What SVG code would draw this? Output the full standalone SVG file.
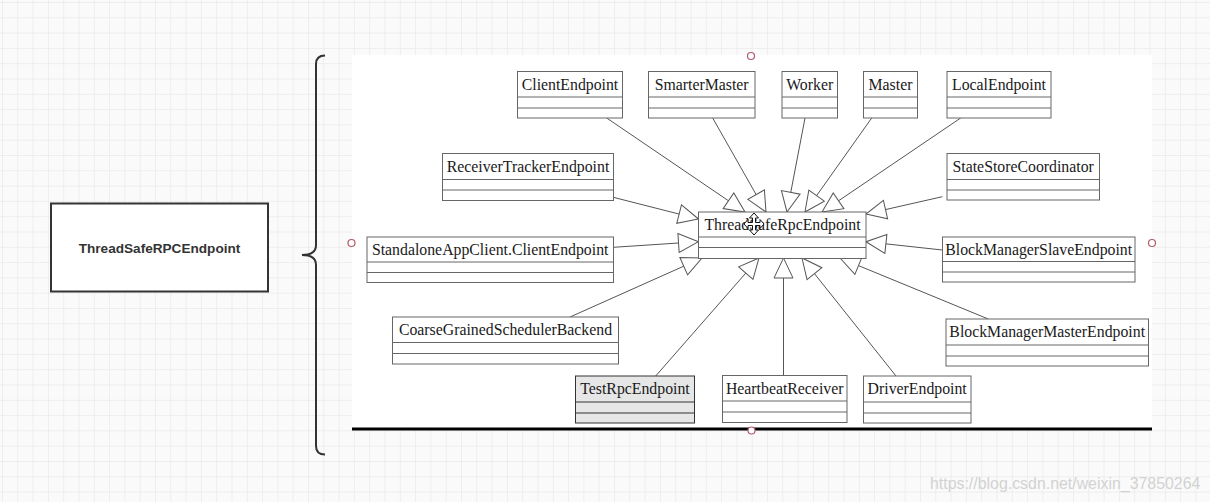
<svg xmlns="http://www.w3.org/2000/svg" width="1210" height="502" viewBox="0 0 1210 502">
<style>
.box rect, .box line { stroke: #666; stroke-width: 1; fill: none; }
.box rect.bg { fill: #ffffff; }
.box.sel rect.bg { fill: #e6e6e6; stroke: #333; }
.box.sel line { stroke: #333; }
.nm { font-family: "Liberation Serif", "Times New Roman", serif; font-size: 15.8px; fill: #1a1a1a; text-anchor: middle; }
.conn line { stroke: #555; stroke-width: 1; }
.handle { fill: #fff; stroke: #b5566a; stroke-width: 1.2; }
</style>
<defs>
<pattern id="grid" patternUnits="userSpaceOnUse" x="2" y="2" width="15.3" height="15.3">
<path d="M15.3,0 L0,0 L0,15.3" fill="none" stroke="#e2e2e2" stroke-width="1"/>
</pattern>
<marker id="tri" markerUnits="userSpaceOnUse" markerWidth="28" markerHeight="26" viewBox="-24 -13 28 26" refX="0" refY="0" orient="auto">
<path d="M0,0 L-20,-9.5 L-20,9.5 Z" fill="#fff" stroke="#555" stroke-width="1"/>
</marker>
</defs>
<rect width="1210" height="502" fill="#fafafa"/>
<rect width="1210" height="502" fill="url(#grid)"/>
<rect x="352" y="55" width="800" height="374" fill="#fff"/>
<line x1="352" y1="429" x2="1152" y2="429" stroke="#000" stroke-width="3"/>

<g id="summary">
<rect x="51" y="203.5" width="217" height="88" fill="#fff" stroke="#333" stroke-width="2"/>
<text x="159.5" y="252.5" font-family="Liberation Sans, Arial, sans-serif" font-size="13.6" font-weight="bold" fill="#333" text-anchor="middle">ThreadSafeRPCEndpoint</text>
</g>
<g id="brace">
<path d="M325,55.5 Q316,55.5 316,64 L316,245 Q316,255 302,255 Q316,255 316,265 L316,446 Q316,454.5 325,454.5" fill="none" stroke="#333" stroke-width="2"/>
</g>

<g class="conn" id="connectors">
<line x1="606.7" y1="118" x2="745" y2="212" marker-end="url(#tri)"/>
<line x1="712.7" y1="118" x2="766" y2="212" marker-end="url(#tri)"/>
<line x1="805" y1="118" x2="787" y2="212" marker-end="url(#tri)"/>
<line x1="871.7" y1="118" x2="805" y2="212" marker-end="url(#tri)"/>
<line x1="960.7" y1="118" x2="822" y2="212" marker-end="url(#tri)"/>
<line x1="613.3" y1="197.3" x2="698.5" y2="219" marker-end="url(#tri)"/>
<line x1="613.3" y1="247.3" x2="698.5" y2="241.7" marker-end="url(#tri)"/>
<line x1="942.3" y1="196.7" x2="866" y2="214" marker-end="url(#tri)"/>
<line x1="942.3" y1="250" x2="866" y2="241.7" marker-end="url(#tri)"/>
<line x1="570" y1="317" x2="702" y2="258" marker-end="url(#tri)"/>
<line x1="655.7" y1="376" x2="759" y2="258" marker-end="url(#tri)"/>
<line x1="783.5" y1="375" x2="783.5" y2="258" marker-end="url(#tri)"/>
<line x1="896" y1="376" x2="802" y2="258" marker-end="url(#tri)"/>
<line x1="988.3" y1="319" x2="840" y2="258" marker-end="url(#tri)"/>
</g>

<g class="box" id="ClientEndpoint">
<rect class="bg" x="517.5" y="71.5" width="105" height="46.5"/>
<line x1="517.5" y1="97" x2="622.5" y2="97"/><line x1="517.5" y1="108" x2="622.5" y2="108"/>
<text class="nm" x="570" y="89.5">ClientEndpoint</text>
</g>
<g class="box" id="SmarterMaster">
<rect class="bg" x="648.5" y="71.5" width="106.5" height="46.5"/>
<line x1="648.5" y1="97" x2="755" y2="97"/><line x1="648.5" y1="108" x2="755" y2="108"/>
<text class="nm" x="701.7" y="89.5">SmarterMaster</text>
</g>
<g class="box" id="Worker">
<rect class="bg" x="782" y="71.5" width="55.5" height="46.5"/>
<line x1="782" y1="97" x2="837.5" y2="97"/><line x1="782" y1="108" x2="837.5" y2="108"/>
<text class="nm" x="809.7" y="89.5">Worker</text>
</g>
<g class="box" id="Master">
<rect class="bg" x="863.5" y="71.5" width="54" height="46.5"/>
<line x1="863.5" y1="97" x2="917.5" y2="97"/><line x1="863.5" y1="108" x2="917.5" y2="108"/>
<text class="nm" x="890.5" y="89.5">Master</text>
</g>
<g class="box" id="LocalEndpoint">
<rect class="bg" x="947" y="71.5" width="104" height="46.5"/>
<line x1="947" y1="97" x2="1051" y2="97"/><line x1="947" y1="108" x2="1051" y2="108"/>
<text class="nm" x="999" y="89.5">LocalEndpoint</text>
</g>
<g class="box" id="ReceiverTrackerEndpoint">
<rect class="bg" x="442.5" y="153.5" width="171" height="47"/>
<line x1="442.5" y1="179.5" x2="613.5" y2="179.5"/><line x1="442.5" y1="190" x2="613.5" y2="190"/>
<text class="nm" x="528" y="171.5">ReceiverTrackerEndpoint</text>
</g>
<g class="box" id="StateStoreCoordinator">
<rect class="bg" x="947" y="153.5" width="152.5" height="46.5"/>
<line x1="947" y1="179.5" x2="1099.5" y2="179.5"/><line x1="947" y1="190" x2="1099.5" y2="190"/>
<text class="nm" x="1023.2" y="171.5">StateStoreCoordinator</text>
</g>
<g class="box" id="StandaloneAppClient.ClientEndpoint">
<rect class="bg" x="367" y="237" width="246.5" height="45.5"/>
<line x1="367" y1="262" x2="613.5" y2="262"/><line x1="367" y1="272.5" x2="613.5" y2="272.5"/>
<text class="nm" x="490.2" y="255">StandaloneAppClient.ClientEndpoint</text>
</g>
<g class="box" id="ThreadSafeRpcEndpoint">
<rect class="bg" x="698.5" y="212" width="167.5" height="46.5"/>
<line x1="698.5" y1="237" x2="866" y2="237"/><line x1="698.5" y1="247.5" x2="866" y2="247.5"/>
<text class="nm" x="782.5" y="229.5">ThreadSafeRpcEndpoint</text>
<path d="M754,213 L758.5,218 L755.5,218 L755.5,222.5 L760,222.5 L760,219.5 L764,224 L760,228.5 L760,225.5 L755.5,225.5 L755.5,230 L758.5,230 L754,235 L749.5,230 L752.5,230 L752.5,225.5 L748,225.5 L748,228.5 L744,224 L748,219.5 L748,222.5 L752.5,222.5 L752.5,218 L749.5,218 Z" fill="#fff" stroke="#111" stroke-width="1"/>
</g>
<g class="box" id="BlockManagerSlaveEndpoint">
<rect class="bg" x="942.5" y="237" width="192.5" height="45"/>
<line x1="942.5" y1="261.5" x2="1135" y2="261.5"/><line x1="942.5" y1="272" x2="1135" y2="272"/>
<text class="nm" x="1038.7" y="255">BlockManagerSlaveEndpoint</text>
</g>
<g class="box" id="CoarseGrainedSchedulerBackend">
<rect class="bg" x="392.5" y="317" width="226" height="47"/>
<line x1="392.5" y1="342.5" x2="618.5" y2="342.5"/><line x1="392.5" y1="353.5" x2="618.5" y2="353.5"/>
<text class="nm" x="505.5" y="335">CoarseGrainedSchedulerBackend</text>
</g>
<g class="box" id="BlockManagerMasterEndpoint">
<rect class="bg" x="946" y="319" width="202.5" height="47"/>
<line x1="946" y1="345" x2="1148.5" y2="345"/><line x1="946" y1="356" x2="1148.5" y2="356"/>
<text class="nm" x="1047.2" y="337">BlockManagerMasterEndpoint</text>
</g>
<g class="box sel" id="TestRpcEndpoint">
<rect class="bg" x="575.5" y="376" width="119" height="47"/>
<line x1="575.5" y1="402" x2="694.5" y2="402"/><line x1="575.5" y1="413" x2="694.5" y2="413"/>
<text class="nm" x="635" y="394">TestRpcEndpoint</text>
</g>
<g class="box" id="HeartbeatReceiver">
<rect class="bg" x="722.5" y="375.5" width="124.5" height="47"/>
<line x1="722.5" y1="401" x2="847" y2="401"/><line x1="722.5" y1="412" x2="847" y2="412"/>
<text class="nm" x="784.7" y="393.5">HeartbeatReceiver</text>
</g>
<g class="box" id="DriverEndpoint">
<rect class="bg" x="863.5" y="376" width="107.5" height="47"/>
<line x1="863.5" y1="402" x2="971" y2="402"/><line x1="863.5" y1="413" x2="971" y2="413"/>
<text class="nm" x="917.2" y="394">DriverEndpoint</text>
</g>

<g id="handles">
<circle class="handle" cx="751" cy="56" r="3.5"/>
<circle class="handle" cx="351.5" cy="243" r="3.5"/>
<circle class="handle" cx="1152" cy="243" r="3.5"/>
<circle class="handle" cx="751.5" cy="430.5" r="3.5"/>
</g>
<text x="930" y="489" font-family="Liberation Sans, Arial, sans-serif" font-size="15.9" fill="#d2d2d2">https://blog.csdn.net/weixin_37850264</text>
</svg>
